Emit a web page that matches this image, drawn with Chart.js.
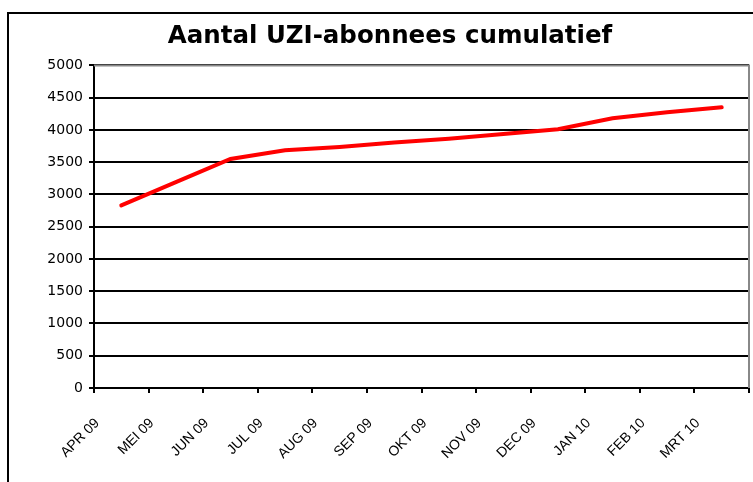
<!DOCTYPE html>
<html>
<head>
<meta charset="utf-8">
<script src="https://cdn.jsdelivr.net/npm/chart.js@4/dist/chart.umd.min.js"></script>
<style>
  html, body { margin: 0; padding: 0; background: #fff; }
  #wrap { width: 753px; height: 482px; }
</style>
</head>
<body>
<div id="wrap"><canvas id="chart" width="753" height="482"></canvas></div>
<script>
var months = ['APR 09', 'MEI 09', 'JUN 09', 'JUL 09', 'AUG 09', 'SEP 09',
              'OKT 09', 'NOV 09', 'DEC 09', 'JAN 10', 'FEB 10', 'MRT 10'];
var subscribers = [2830, 3190, 3550, 3685, 3737, 3805, 3865, 3935, 4010, 4180, 4275, 4350];
var yMin = 0;
var yMax = 5000;
var yStep = 500;

// outer frame + grey plot border like the Excel original
var framePlugin = {
  id: 'frame',
  beforeDraw: function(chart) {
    var ctx = chart.ctx;
    ctx.save();
    ctx.fillStyle = '#fff';
    ctx.fillRect(0, 0, chart.width, chart.height);
    ctx.strokeStyle = '#000';
    ctx.lineWidth = 2;
    ctx.beginPath();
    ctx.moveTo(8, chart.height + 2);
    ctx.lineTo(8, 13);
    ctx.lineTo(chart.width + 2, 13);
    ctx.stroke();
    ctx.restore();
  },
  afterDatasetsDraw: function(chart) {
    var a = chart.chartArea;
    var ctx = chart.ctx;
    ctx.save();
    ctx.strokeStyle = '#888';
    ctx.lineWidth = 2;
    ctx.beginPath();
    ctx.moveTo(a.left, a.top);
    ctx.lineTo(a.right, a.top);
    ctx.lineTo(a.right, a.bottom);
    ctx.stroke();
    ctx.restore();
  }
};

var ctx = document.getElementById('chart');
var chart = new Chart(ctx, {
  type: 'line',
  data: {
    labels: months,
    datasets: [
      {
        label: 'Aantal UZI-abonnees',
        data: subscribers,
        borderColor: '#ff0000',
        backgroundColor: '#ff0000',
        borderWidth: 4,
        pointRadius: 0,
        lineTension: 0,
        borderCapStyle: 'round'
      }
    ]
  },
  options: {
    responsive: false,
    animation: false,
    layout: {
      padding: { left: 31, right: 4, top: 0, bottom: 0 }
    },
    plugins: {
      legend: { display: false },
      tooltip: { enabled: false },
      title: {
        display: true,
        text: 'Aantal UZI-abonnees cumulatief',
        color: '#000',
        font: { family: 'DejaVu Sans', size: 24.5, weight: 'bold' },
        padding: { top: 22, bottom: 14 }
      }
    },
    scales: {
      x: {
        offset: true,
        grid: {
          offset: true,
          drawOnChartArea: false,
          drawTicks: true,
          tickLength: 5,
          color: '#000',
          lineWidth: 2
        },
        border: { color: '#000', width: 2 },
        ticks: {
          autoSkip: false,
          maxRotation: 45,
          minRotation: 45,
          labelOffset: -24,
          padding: 22,
          color: '#000',
          font: { family: 'Liberation Sans', size: 14 }
        },
        afterFit: function(scale) {
          scale.height = 94;
          scale.paddingLeft = 0;
          scale.paddingRight = 0;
        }
      },
      y: {
        min: yMin,
        max: yMax,
        grid: {
          color: '#000',
          lineWidth: 2,
          tickLength: 5
        },
        border: { color: '#000', width: 2 },
        ticks: {
          stepSize: yStep,
          padding: 6,
          color: '#000',
          font: { family: 'DejaVu Sans', size: 14 },
          callback: function(value) { return String(value); }
        },
        afterFit: function(scale) { scale.width = 63; }
      }
    }
  },
  plugins: [framePlugin]
});
</script>
</body>
</html>
